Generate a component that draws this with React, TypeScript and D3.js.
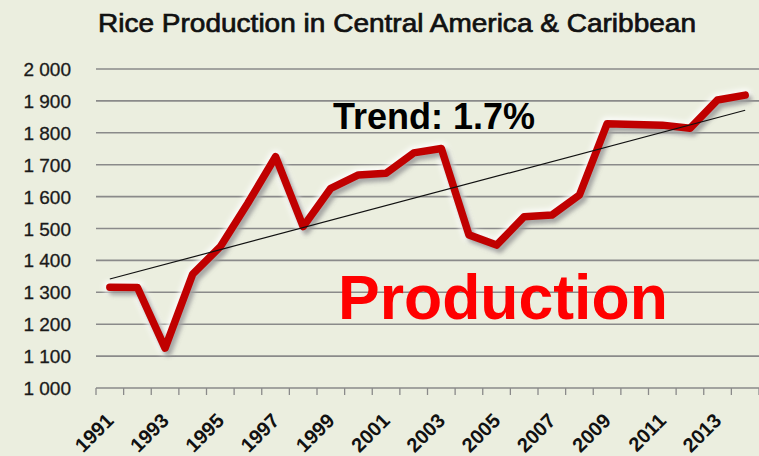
import React from "react";
import * as d3 from "d3";

const years: string[] = [
  "1991","1992","1993","1994","1995","1996","1997","1998","1999","2000","2001","2002",
  "2003","2004","2005","2006","2007","2008","2009","2010","2011","2012","2013","2014",
];
const production: number[] = [
  1316, 1315, 1125, 1357, 1443, 1580, 1725, 1506, 1626, 1668, 1673, 1737,
  1751, 1480, 1448, 1537, 1542, 1605, 1828, 1826, 1824, 1814, 1903, 1918,
];
const yTicks: number[] = [1000, 1100, 1200, 1300, 1400, 1500, 1600, 1700, 1800, 1900, 2000];
const xLabelYears: string[] = ["1991","1993","1995","1997","1999","2001","2003","2005","2007","2009","2011","2013"];
const title = "Rice Production in Central America & Caribbean";
const trendLabel = "Trend: 1.7%";
const seriesLabel = "Production";

const W = 759;
const H = 456;
const BG = "#ebeedf";

export default function App() {
  const x = d3.scaleBand<string>().domain(years).range([96, 759]).padding(0);
  const y = d3.scaleLinear().domain([1000, 2000]).range([388, 69]);
  const bw = x.bandwidth();
  const cx = (d: string) => (x(d) as number) + bw / 2;

  const locale = d3.formatLocale({ decimal: ".", thousands: " ", grouping: [3], currency: ["", ""] });
  const fmt = locale.format(",");

  const pts: [number, number][] = years.map((d, i) => [cx(d), y(production[i])]);
  const line = d3.line<[number, number]>().x((p) => p[0]).y((p) => p[1]);
  const pathD = line(pts) as string;

  // linear regression trend
  const n = production.length;
  const xs = d3.range(n);
  const mx = d3.mean(xs) as number;
  const my = d3.mean(production) as number;
  let num = 0, den = 0;
  xs.forEach((i) => { num += (i - mx) * (production[i] - my); den += (i - mx) * (i - mx); });
  const slope = num / den;
  const icpt = my - slope * mx;
  const trendPts: [number, number][] = [
    [cx(years[0]), y(icpt)],
    [cx(years[n - 1]), y(icpt + slope * (n - 1))],
  ];

  const boundaries = d3.range(years.length + 1).map((i) => 96 + i * bw);

  return (
    <svg width={W} height={H} style={{ position: "absolute", left: 0, top: 0, display: "block" }}>
      <defs>
        <filter id="blur2" x="-20%" y="-20%" width="140%" height="140%">
          <feGaussianBlur stdDeviation="2" />
        </filter>
        <filter id="blur3" x="-20%" y="-20%" width="140%" height="140%">
          <feGaussianBlur stdDeviation="2.5" />
        </filter>
      </defs>
      <rect x={0} y={0} width={W} height={H} fill={BG} />

      <text
        x={98}
        y={32}
        fontFamily="'Liberation Sans Narrow', 'Arial Narrow', 'Liberation Sans', sans-serif"
        fontSize={26}
        fill="#111"
        stroke="#111"
        strokeWidth={0.7}
        textLength={598}
        lengthAdjust="spacingAndGlyphs"
      >
        {title}
      </text>

      {/* gridlines */}
      {yTicks.map((v) => (
        <line key={v} x1={96} x2={759} y1={y(v)} y2={y(v)} stroke="#8a8a8a" strokeWidth={1.6} />
      ))}
      {/* x ticks */}
      {boundaries.map((bx, i) => (
        <line key={i} x1={bx} x2={bx} y1={y(1000)} y2={y(1000) + 7} stroke="#8a8a8a" strokeWidth={1.3} />
      ))}

      {/* y labels */}
      {yTicks.map((v) => (
        <text
          key={v}
          x={71}
          y={y(v) + 7}
          textAnchor="end"
          fontFamily="'Liberation Sans', Arial, sans-serif"
          fontSize={19}
          fill="#1a1a1a"
          stroke="#1a1a1a"
          strokeWidth={0.3}
        >
          {fmt(v)}
        </text>
      ))}

      {/* x labels */}
      {xLabelYears.map((d) => {
        const ax = cx(d) + 5;
        const ay = 422;
        return (
          <text
            key={d}
            x={ax}
            y={ay}
            transform={`rotate(-45 ${ax} ${ay})`}
            textAnchor="end"
            fontFamily="'Liberation Sans', Arial, sans-serif"
            fontWeight="bold"
            fontSize={20}
            fill="#111"
          >
            {d}
          </text>
        );
      })}

      {/* line: halo, shadow, main */}
      <path d={pathD} fill="none" stroke="#ffffff" strokeWidth={13} strokeOpacity={0.85}
        strokeLinejoin="round" strokeLinecap="round" filter="url(#blur3)" />
      <path d={pathD} fill="none" stroke="#6e6e6e" strokeWidth={8} strokeOpacity={0.6}
        strokeLinejoin="round" strokeLinecap="round" filter="url(#blur2)" transform="translate(3,4)" />
      <path d={pathD} fill="none" stroke="#c00000" strokeWidth={7.5}
        strokeLinejoin="round" strokeLinecap="round" />

      {/* trend line */}
      <line x1={trendPts[0][0]} y1={trendPts[0][1]} x2={trendPts[1][0]} y2={trendPts[1][1]}
        stroke="#111" strokeWidth={1.2} />

      <text x={333} y={129} fontFamily="'Liberation Sans', Arial, sans-serif" fontWeight="bold"
        fontSize={36} fill="#000">
        {trendLabel}
      </text>
      <text x={338} y={319} fontFamily="'Liberation Sans', Arial, sans-serif" fontWeight="bold"
        fontSize={62.5} fill="#ff0000">
        {seriesLabel}
      </text>
    </svg>
  );
}
